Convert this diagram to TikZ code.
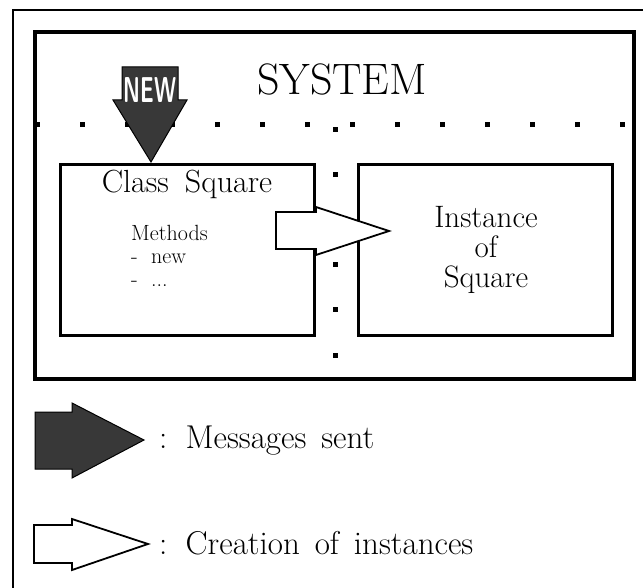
\documentclass[tikz,border=0pt]{standalone}
\usepackage{tikz}

\begin{document}
\begin{tikzpicture}[x=1pt, y=-1pt,
    frame/.style={draw, line width=3.5pt},
    box/.style={draw, line width=3pt, minimum width=254pt, minimum height=170pt, inner sep=0pt},
    dot/.style={fill=black, minimum size=5pt, inner sep=0pt},
    msgarrow/.style={fill=black!78, draw=black, line width=1pt, line join=miter},
    makearrow/.style={fill=white, draw=black, line width=1.8pt, line join=miter},
    txt/.style={inner sep=0pt, font=\fontsize{#1}{#1}\selectfont}]
    \useasboundingbox (0,0) rectangle (643,588);
    \draw[line width=1.5pt] (13,588) -- (13,10) -- (643,10);
    \draw[frame] (35,32) rectangle (634,379);
    % dotted partition of the system
    \foreach \i in {0,...,13}
        \node[dot] (h\i) at (37+45*\i,125) {};
    \foreach \j in {0,...,5}
        \node[dot] (v\j) at (335,130+45*\j) {};
    \node[txt=44, anchor=base] (sys) at (342,95) {SYSTEM};
    \node[box] (cls) at (187.5,250) {};
    \node[box] (inst) at (485,250) {};
    \node[txt=32, anchor=base] (clsname) at (187,193) {Class\hspace{0.2em} Square};
    \node[align=left, anchor=north west, inner sep=0pt, font=\fontsize{22}{23}\selectfont] (meth) at (131,225) {Methods\\-\hspace{0.3em} new\\-\hspace{0.3em} ...};
    \node[align=center, inner sep=0pt, font=\fontsize{31}{30}\selectfont] (instname) at (486,250) {Instance\\of\\Square};
    % creation of the instance
    \draw[makearrow] (276,212) -- (316,212) -- (316,207) -- (389,231) -- (316,255) -- (316,249) -- (276,249) -- cycle;
    % message new
    \draw[msgarrow] (122,67) -- (178,67) -- (178,100) -- (187,100) -- (151,162) -- (113,100) -- (122,100) -- cycle;
    \node[text=white, inner sep=0pt, font=\sffamily\bfseries\fontsize{36}{36}\selectfont] (newlbl) at (150,90.5) {\scalebox{0.59}[1]{NEW}};
    % legend
    \draw[msgarrow] (35,412) -- (72,412) -- (72,403) -- (144,440) -- (72,478) -- (72,469) -- (35,469) -- cycle;
    \node[txt=33, anchor=base west] (msglbl) at (159,448) {:\hspace{0.15em} Messages\hspace{0.15em} sent};
    \draw[makearrow] (34,525) -- (72,525) -- (72,519) -- (148,544) -- (72,570) -- (72,563) -- (34,563) -- cycle;
    \node[txt=33, anchor=base west] (mklbl) at (159,554) {:\hspace{0.15em} Creation\hspace{0.15em} of\hspace{0.15em} instances};
\end{tikzpicture}
\end{document}
